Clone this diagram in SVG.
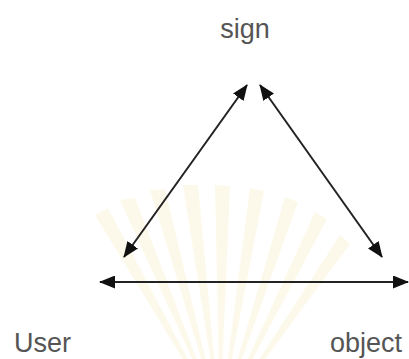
<svg xmlns="http://www.w3.org/2000/svg" width="409" height="359" viewBox="0 0 409 359">
  <defs>
    <style>
      .lbl { font-family: "Liberation Sans", Arial, sans-serif; font-size: 27px; fill: #555; }
      .conn { stroke: #222; stroke-width: 2; fill: none; marker-start: url(#ah); marker-end: url(#ah); }
      .ray { fill: #fdf9ea; }
    </style>
    <marker id="ah" viewBox="0 0 16 13" refX="15" refY="6.5" markerWidth="16" markerHeight="13" markerUnits="userSpaceOnUse" orient="auto-start-reverse">
      <path d="M0,0 L16,6.5 L0,13 z" fill="#111"/>
    </marker>
  </defs>
  <rect width="409" height="359" fill="#fff"/>
  <g id="watermark">
    <polygon class="ray" points="220,420 120,200 135,198"/>
    <polygon class="ray" points="220,420 150,190 165,189"/>
    <polygon class="ray" points="220,420 183,185 198,185"/>
    <polygon class="ray" points="220,420 215,185 230,186"/>
    <polygon class="ray" points="220,420 250,188 264,191"/>
    <polygon class="ray" points="220,420 285,197 298,202"/>
    <polygon class="ray" points="220,420 315,212 327,219"/>
    <polygon class="ray" points="220,420 340,235 350,244"/>
    <polygon class="ray" points="220,420 95,215 108,208"/>
  </g>
  <g id="connectors">
    <line class="conn" x1="247" y1="85" x2="124" y2="257"/>
    <line class="conn" x1="260" y1="85" x2="382" y2="257"/>
    <line class="conn" x1="100" y1="282" x2="408" y2="282"/>
  </g>
  <g id="sign"><text class="lbl" x="245" y="38" text-anchor="middle">sign</text></g>
  <g id="user"><text class="lbl" x="14" y="352">User</text></g>
  <g id="object"><text class="lbl" x="402" y="352" text-anchor="end">object</text></g>
</svg>
